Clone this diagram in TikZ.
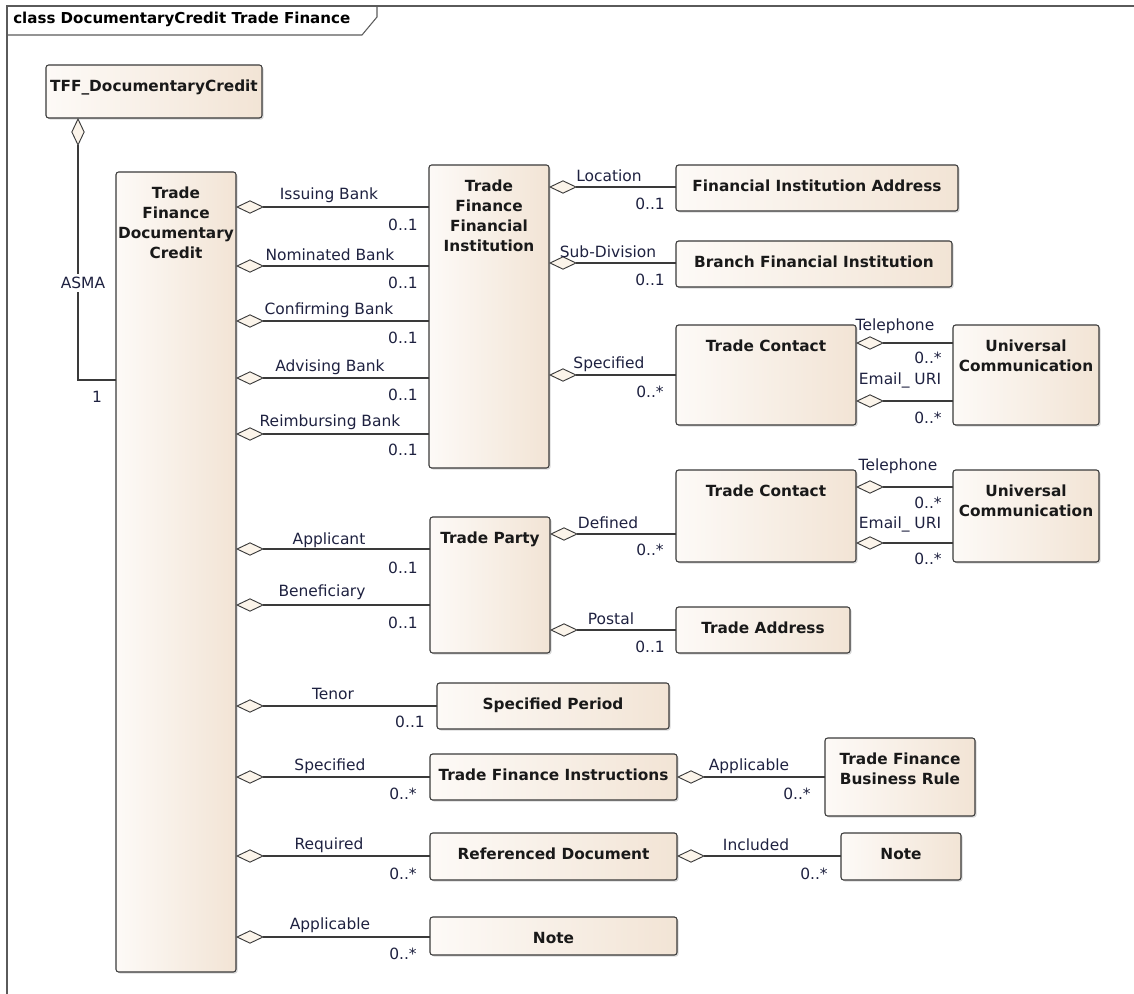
\documentclass[tikz,border=0pt]{standalone}
\usepackage{fontspec}
\setmainfont{DejaVu Sans}
\usetikzlibrary{arrows.meta,shadows}
\definecolor{boxL}{HTML}{FDFAF7}
\definecolor{boxR}{HTML}{F2E4D5}
\definecolor{edgecol}{HTML}{3A3A3A}
\definecolor{lbl}{HTML}{1E2140}
\definecolor{framecol}{HTML}{5A5A5A}
\definecolor{diafill}{HTML}{FBF4EA}
\tikzset{
 umlbox/.style={draw=edgecol, line width=0.8pt, rounded corners=2pt, left color=boxL, right color=boxR,
   drop shadow={shadow xshift=1.2pt,shadow yshift=-1.2pt,opacity=0.3}, inner sep=0pt, outer sep=0pt},
 umltitle/.style={font=\bfseries\fontsize{11.5}{15}\selectfont, text=black!90, align=center, anchor=north, inner sep=0pt},
 assoc/.style={draw=edgecol, line width=0.8pt, -{Diamond[length=21pt,width=10pt,fill=diafill,line width=0.7pt]}},
 role/.style={font=\fontsize{11.6}{13}\selectfont, text=lbl, inner sep=1pt},
 mult/.style={font=\fontsize{11.6}{13}\selectfont, text=lbl, inner sep=1pt},
}
\newcommand{\umlclass}[6]{%
 \node[umlbox, minimum width={(#4-#2)*0.75pt}, minimum height={(#5-#3)*0.75pt}] (#1) at ({(#2+#4)/2},{(#3+#5)/2}) {};
 \node[umltitle] (#1-t) at ({(#2+#4)/2},{#3+15}) {#6};
}
\begin{document}
\begin{tikzpicture}[x=0.75pt,y=-0.75pt]
\useasboundingbox (0,0) rectangle (1134,994);
% frame
\draw[framecol, line width=1.1pt] (7,994) -- (7,6) -- (1134,6);
\draw[framecol, line width=0.8pt] (7,35) -- (362,35) -- (377,17) -- (377,6);
\node[font=\bfseries\fontsize{11.3}{13}\selectfont, anchor=west, inner sep=0pt] (frametitle) at (13,19) {class DocumentaryCredit Trade Finance};

% classes
\umlclass{tff}{46}{65}{262}{118}{TFF\_DocumentaryCredit}
\umlclass{tfdc}{116}{172}{236}{972}{Trade\\Finance\\Documentary\\Credit}
\umlclass{tffi}{429}{165}{549}{468}{Trade\\Finance\\Financial\\Institution}
\umlclass{fia}{676}{165}{958}{211}{Financial Institution Address}
\umlclass{bfi}{676}{241}{952}{287}{Branch Financial Institution}
\umlclass{tca}{676}{325}{856}{425}{Trade Contact}
\umlclass{uca}{953}{325}{1099}{425}{Universal\\Communication}
\umlclass{tcb}{676}{470}{856}{562}{Trade Contact}
\umlclass{ucb}{953}{470}{1099}{562}{Universal\\Communication}
\umlclass{tp}{430}{517}{550}{653}{Trade Party}
\umlclass{ta}{676}{607}{850}{653}{Trade Address}
\umlclass{sp}{437}{683}{669}{729}{Specified Period}
\umlclass{tfi}{430}{754}{677}{800}{Trade Finance Instructions}
\umlclass{br}{825}{738}{975}{816}{Trade Finance\\Business Rule}
\umlclass{rd}{430}{833}{677}{880}{Referenced Document}
\umlclass{nta}{841}{833}{961}{880}{Note}
\umlclass{ntb}{430}{917}{677}{955}{Note}

% ASMA
\draw[assoc] (tfdc.west |- 0,380) -| (tff.south -| 78,0);
\node[role, fill=white, inner sep=2pt] (asma) at (83,283) {ASMA};
\node[mult] (m0) at (97,397) {1};

% TFDC -> TFFI
\draw[assoc] (tffi.west |- 0,207) -- (tfdc.east |- 0,207);
\node[role] (r1) at (329,195) {Issuing Bank};
\node[mult] (m1) at (403,225) {0..1};
\draw[assoc] (tffi.west |- 0,266) -- (tfdc.east |- 0,266);
\node[role] (r2) at (330,255) {Nominated Bank};
\node[mult] (m2) at (403,283) {0..1};
\draw[assoc] (tffi.west |- 0,321) -- (tfdc.east |- 0,321);
\node[role] (r3) at (329,310) {Confirming Bank};
\node[mult] (m3) at (403,338) {0..1};
\draw[assoc] (tffi.west |- 0,378) -- (tfdc.east |- 0,378);
\node[role] (r4) at (330,367) {Advising Bank};
\node[mult] (m4) at (403,395) {0..1};
\draw[assoc] (tffi.west |- 0,434) -- (tfdc.east |- 0,434);
\node[role] (r5) at (330,422) {Reimbursing Bank};
\node[mult] (m5) at (403,450) {0..1};

% TFFI -> others
\draw[assoc] (fia.west |- 0,187) -- (tffi.east |- 0,187);
\node[role] (r6) at (609,176) {Location};
\node[mult] (m6) at (650,204) {0..1};
\draw[assoc] (bfi.west |- 0,263) -- (tffi.east |- 0,263);
\node[role] (r7) at (608,252) {Sub-Division};
\node[mult] (m7) at (650,280) {0..1};
\draw[assoc] (tca.west |- 0,375) -- (tffi.east |- 0,375);
\node[role] (r8) at (609,364) {Specified};
\node[mult] (m8) at (650,392) {0..*};

% Trade Contact A -> UC A
\draw[assoc] (uca.west |- 0,343) -- (tca.east |- 0,343);
\node[role] (r9) at (895,326) {Telephone};
\node[mult] (m9) at (928,358) {0..*};
\draw[assoc] (uca.west |- 0,401) -- (tca.east |- 0,401);
\node[role] (r10) at (900,380) {Email\_ URI};
\node[mult] (m10) at (928,418) {0..*};

% TFDC -> Trade Party
\draw[assoc] (tp.west |- 0,549) -- (tfdc.east |- 0,549);
\node[role] (r11) at (329,540) {Applicant};
\node[mult] (m11) at (403,568) {0..1};
\draw[assoc] (tp.west |- 0,605) -- (tfdc.east |- 0,605);
\node[role] (r12) at (322,592) {Beneficiary};
\node[mult] (m12) at (403,623) {0..1};

% Trade Party -> others
\draw[assoc] (tcb.west |- 0,534) -- (tp.east |- 0,534);
\node[role] (r13) at (608,523) {Defined};
\node[mult] (m13) at (650,550) {0..*};
\draw[assoc] (ta.west |- 0,630) -- (tp.east |- 0,630);
\node[role] (r14) at (611,619) {Postal};
\node[mult] (m14) at (650,647) {0..1};

% Trade Contact B -> UC B
\draw[assoc] (ucb.west |- 0,487) -- (tcb.east |- 0,487);
\node[role] (r15) at (898,466) {Telephone};
\node[mult] (m15) at (928,503) {0..*};
\draw[assoc] (ucb.west |- 0,543) -- (tcb.east |- 0,543);
\node[role] (r16) at (900,524) {Email\_ URI};
\node[mult] (m16) at (928,559) {0..*};

% TFDC -> lower classes
\draw[assoc] (sp.west |- 0,706) -- (tfdc.east |- 0,706);
\node[role] (r17) at (333,694) {Tenor};
\node[mult] (m17) at (410,722) {0..1};
\draw[assoc] (tfi.west |- 0,777) -- (tfdc.east |- 0,777);
\node[role] (r18) at (330,766) {Specified};
\node[mult] (m18) at (403,794) {0..*};
\draw[assoc] (br.west |- 0,777) -- (tfi.east |- 0,777);
\node[role] (r19) at (749,766) {Applicable};
\node[mult] (m19) at (797,794) {0..*};
\draw[assoc] (rd.west |- 0,856) -- (tfdc.east |- 0,856);
\node[role] (r20) at (329,845) {Required};
\node[mult] (m20) at (403,874) {0..*};
\draw[assoc] (nta.west |- 0,856) -- (rd.east |- 0,856);
\node[role] (r21) at (756,845) {Included};
\node[mult] (m21) at (814,874) {0..*};
\draw[assoc] (ntb.west |- 0,937) -- (tfdc.east |- 0,937);
\node[role] (r22) at (330,925) {Applicable};
\node[mult] (m22) at (403,954) {0..*};
\end{tikzpicture}
\end{document}
